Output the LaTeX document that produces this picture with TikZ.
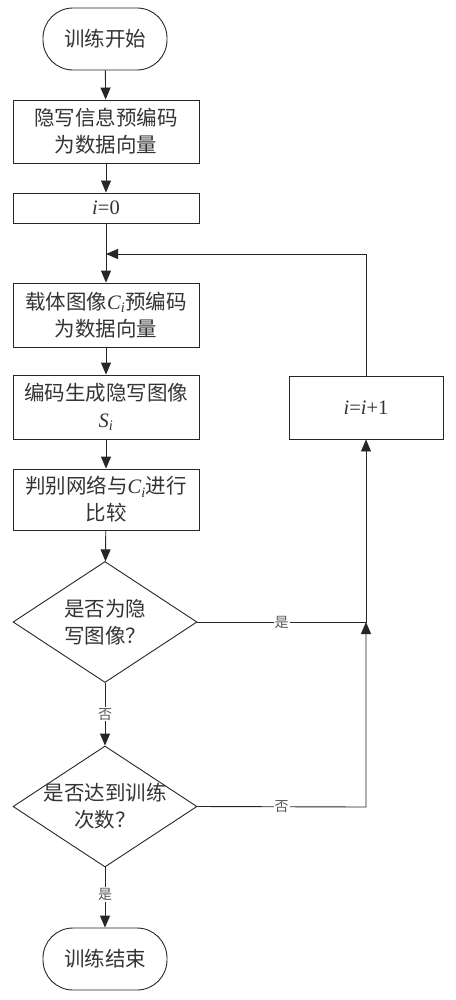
\documentclass[tikz,border=0pt]{standalone}
\usepackage{fontspec}
\setmainfont{Liberation Serif}
\newfontfamily\cjk{Noto Sans CJK SC}
\newfontfamily\tms{Liberation Serif}
\newcommand\iv[1]{{\tms\itshape #1}}
\newcommand\rv[1]{{\tms #1}}
\usetikzlibrary{shapes.geometric,arrows.meta}
\begin{document}
\begin{tikzpicture}[x=1pt,y=-1pt,
  every node/.style={font=\cjk\fontsize{20.5}{27}\selectfont, text=black!80},
  proc/.style={draw=black!85, line width=0.9pt, minimum width=186pt, inner sep=0pt, align=center},
  term/.style={draw=black!85, line width=0.9pt, rounded corners=30pt, minimum width=124pt, minimum height=62pt, inner sep=0pt},
  dia/.style={draw=black!85, line width=0.9pt, diamond, aspect=1.52, minimum width=184pt, minimum height=121pt, inner sep=0pt},
  lab/.style={fill=white, inner sep=1pt, font=\cjk\fontsize{14}{14}\selectfont, text=black!65},
  conn/.style={line width=0.9pt, draw=black!85},
  arr/.style={conn, -{Triangle[length=12pt,width=10pt]}}
]
\useasboundingbox (0,0) rectangle (455,1000);
\node[term] (start) at (105,39) {训练开始};
\node[proc, minimum height=63pt] (b1) at (106,131.5) {隐写信息预编码\\为数据向量};
\node[proc, minimum height=30pt] (b2) at (106,208) {\iv{i}\rv{=0}};
\node[proc, minimum height=64pt] (b3) at (106,315) {载体图像\iv{C\textsubscript{i}}预编码\\为数据向量};
\node[proc, minimum height=64pt] (b4) at (106,407) {编码生成隐写图像\\\iv{S\textsubscript{i}}};
\node[proc, minimum height=61pt] (b5) at (106,499.5) {判别网络与\iv{C\textsubscript{i}}进行\\比较};
\node[dia] (d1) at (105,622) {};
\node[align=center] (t1) at (d1.center) {是否为隐\\写图像？};
\node[dia] (d2) at (105,806.5) {};
\node[align=center] (t2) at (d2.center) {是否达到训练\\次数？};
\node[term] (end) at (105,959) {训练结束};
\node[proc, minimum width=154pt, minimum height=63pt] (inc) at (366,407.5) {\iv{i}\rv{=}\iv{i}\rv{+1}};
\coordinate (loopR) at (366,254);
\coordinate (loopL) at (106,254);
\coordinate (j1) at (366,622);
\coordinate (j2) at (366,807);

\draw[arr] (start) -- (b1);
\draw[arr] (b1) -- (b2);
\draw[arr] (b2) -- (b3);
\draw[arr] (b3) -- (b4);
\draw[arr] (b4) -- (b5);
\draw[arr] (b5) -- (d1);
\draw[arr] (d1) -- node[lab]{否} (d2);
\draw[arr] (d2) -- node[lab, pos=0.45]{是} (end);
\draw[arr] (d1.east) -- node[lab, pos=0.5]{是} (j1) -- (inc);
\draw[arr] (d2.east) -- node[lab, pos=0.5]{否} (j2) -- (j1);
\draw[arr] (inc) -- (loopR) -- (loopL);
\end{tikzpicture}
\end{document}
